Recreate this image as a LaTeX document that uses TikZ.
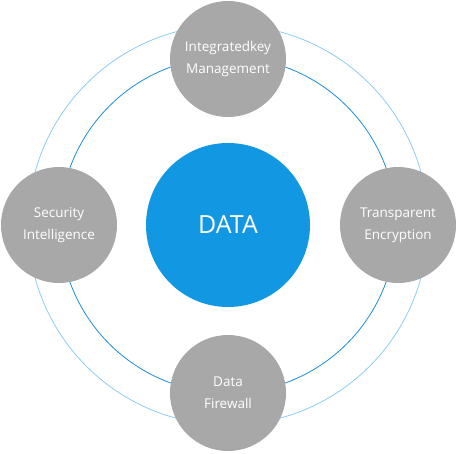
\documentclass[tikz,border=0pt]{standalone}
\usepackage{fontspec}
\setmainfont{Open Sans}
\usepackage{tikz}
\usetikzlibrary{calc}
\definecolor{datableu}{RGB}{18,152,227}
\definecolor{ringbleu}{RGB}{30,140,220}
\definecolor{ringclair}{RGB}{140,205,245}
\definecolor{satgris}{RGB}{168,168,168}

\begin{document}
\begin{tikzpicture}[x=1pt, y=-1pt,
  core/.style={circle, fill=datableu, minimum size=164pt, inner sep=0pt,
               text=white, font=\fontsize{25}{30}\selectfont},
  sat/.style={circle, fill=satgris, minimum size=116pt, inner sep=0pt,
              text=white, align=center, font=\fontsize{13.5}{22}\selectfont},
  ring/.style={draw=ringbleu, line width=0.8pt},
  halo/.style={draw=ringclair, line width=0.8pt}]

  \useasboundingbox (0,0) rectangle (458,453);

  \node[core] (data) at (228,225) {DATA};

  % rings behind the satellites
  \draw[halo] (data.center) circle (200);
  \draw[ring] (data.center) circle (168);

  \node[sat] (key) at ($(data.center)+(0,-166)$) {Integratedkey\\Management};
  \node[sat] (enc) at ($(data.center)+(170,0)$) {Transparent\\Encryption};
  \node[sat] (fw) at ($(data.center)+(0,168)$) {Data\\Firewall};
  \node[sat] (sec) at ($(data.center)+(-169,0)$) {Security\\Intelligence};
\end{tikzpicture}
\end{document}
